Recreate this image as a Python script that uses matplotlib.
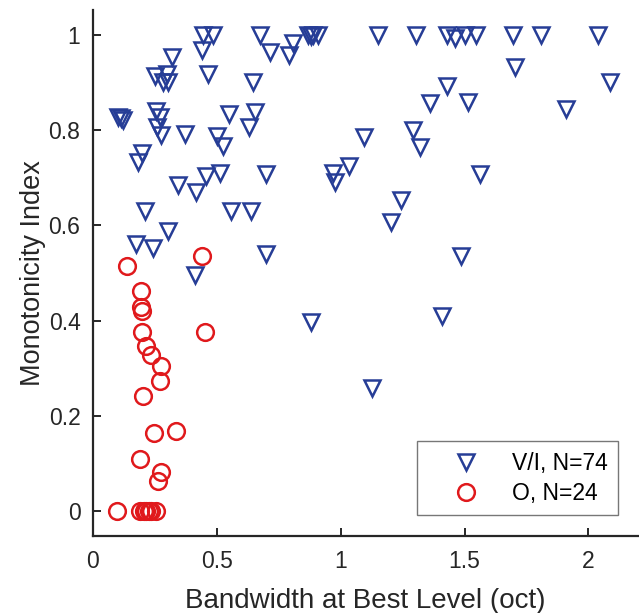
import matplotlib
matplotlib.use("Agg")
import matplotlib.pyplot as plt

plt.rcParams['font.family'] = ['Liberation Sans', 'DejaVu Sans']

# V/I neurons (triangles)
vi_bw = [0.444, 0.483, 0.673, 0.867, 0.887, 0.907, 1.150, 1.302, 1.430, 1.460, 1.500, 1.545,
         1.695, 1.809, 2.037,
         0.442, 0.317, 0.714, 0.790, 0.807,
         0.464, 0.250, 0.297, 0.281, 0.304,
         0.645, 0.102, 0.112, 0.122,
         0.254, 0.270, 0.259, 0.273,
         0.550, 0.654, 0.628,
         0.371, 0.499, 0.525, 1.095,
         0.196, 0.183, 0.700, 0.456, 0.512,
         0.344, 0.415, 0.969, 0.976, 1.034,
         0.210, 0.556, 0.638,
         0.304, 0.173, 0.243, 0.698,
         0.411, 0.879, 1.126,
         1.702, 2.085, 1.430, 1.359, 1.513, 1.910,
         1.292, 1.319, 1.563, 1.245, 1.202, 1.484, 1.410, 0.880]
vi_mi = [1.0, 1.0, 1.0, 1.0, 1.0, 1.0, 1.0, 1.0, 1.0, 0.993, 1.0, 1.0,
         1.0, 1.0, 1.0,
         0.968, 0.954, 0.965, 0.958, 0.984,
         0.918, 0.914, 0.919, 0.902, 0.902,
         0.902, 0.828, 0.825, 0.821,
         0.841, 0.828, 0.807, 0.790,
         0.834, 0.839, 0.807,
         0.793, 0.788, 0.767, 0.786,
         0.753, 0.734, 0.709, 0.704, 0.711,
         0.685, 0.671, 0.711, 0.692, 0.725,
         0.631, 0.631, 0.631,
         0.589, 0.561, 0.552, 0.541,
         0.496, 0.398, 0.258,
         0.933, 0.902, 0.893, 0.858, 0.860, 0.845,
         0.800, 0.764, 0.709, 0.653, 0.608, 0.536, 0.410, 0.998]

# O neurons (circles)
o_bw = [0.442, 0.138, 0.192, 0.192, 0.199, 0.199, 0.452, 0.214, 0.233, 0.273, 0.270,
        0.203, 0.247, 0.337, 0.190, 0.274, 0.263,
        0.095, 0.190, 0.205, 0.215, 0.225, 0.235, 0.255]
o_mi = [0.536, 0.515, 0.463, 0.429, 0.420, 0.377, 0.377, 0.347, 0.328, 0.305, 0.273,
        0.242, 0.163, 0.169, 0.109, 0.083, 0.064,
        0.0, 0.0, 0.0, 0.0, 0.0, 0.0, 0.0]

x_ticks = [0, 0.5, 1, 1.5, 2]
x_labels = ['0', '0.5', '1', '1.5', '2']
y_ticks = [0, 0.2, 0.4, 0.6, 0.8, 1]
y_labels = ['0', '0.2', '0.4', '0.6', '0.8', '1']

blue = '#263d96'
red = '#e0191c'
spine = '#262626'

fig = plt.figure(figsize=(6.39, 6.13), dpi=100)
ax = fig.add_axes([0.1455, 0.1256, 0.853, 0.858])

ax.plot(vi_bw, vi_mi, linestyle='none', marker='v', markersize=11,
        markerfacecolor='none', markeredgecolor=blue, markeredgewidth=1.8,
        label='V/I, N=74')
ax.plot(o_bw, o_mi, linestyle='none', marker='o', markersize=12,
        markerfacecolor='none', markeredgecolor=red, markeredgewidth=1.8,
        label='O, N=24')

ax.set_xlim(0, 2.2)
ax.set_ylim(-0.0525, 1.0525)
ax.set_xticks(x_ticks)
ax.set_xticklabels(x_labels)
ax.set_yticks(y_ticks)
ax.set_yticklabels(y_labels)

for s in ['top', 'right']:
    ax.spines[s].set_visible(False)
for s in ['left', 'bottom']:
    ax.spines[s].set_color(spine)
    ax.spines[s].set_linewidth(1.6)

ax.tick_params(direction='in', length=6, width=1.4, color=spine,
               labelsize=16.5, labelcolor=spine)
ax.tick_params(axis='x', pad=10)
ax.tick_params(axis='y', pad=9)

ax.set_xlabel('Bandwidth at Best Level (oct)', fontsize=20, color=spine, labelpad=11)
ax.set_ylabel('Monotonicity Index', fontsize=19.5, color=spine, labelpad=2)

leg = ax.legend(loc='lower right', bbox_to_anchor=(0.963, 0.04), fontsize=16.5,
                frameon=True, fancybox=False, edgecolor='#555555',
                handletextpad=0.3, borderpad=0.45, handlelength=3.4,
                labelspacing=0.3, borderaxespad=0)
leg.get_frame().set_linewidth(1.0)

fig.savefig('out.png', dpi=100)
